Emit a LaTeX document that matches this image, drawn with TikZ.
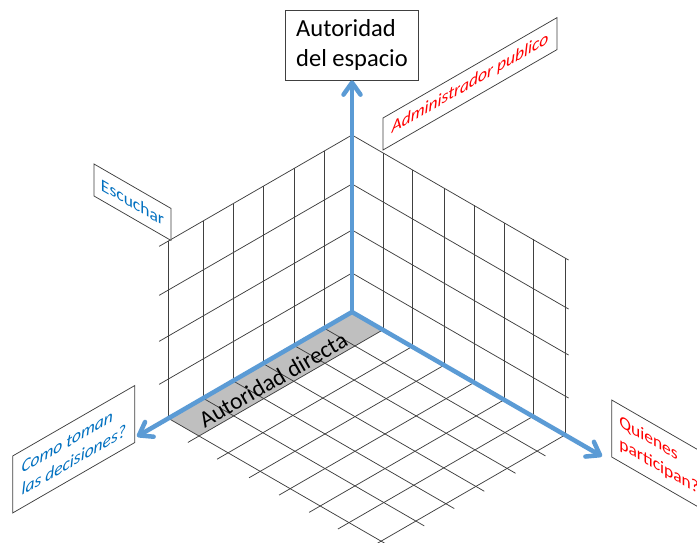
\documentclass[tikz,border=0pt]{standalone}
\usepackage{fontspec}
\setmainfont{Carlito}
\usetikzlibrary{arrows.meta}
\definecolor{axisblue}{HTML}{5B9BD5}
\definecolor{txtblue}{HTML}{0070C0}
\definecolor{gridgray}{HTML}{404040}
\definecolor{stripgray}{HTML}{BFBFBF}
\begin{document}
\begin{tikzpicture}[x=1pt,y=-1pt,
  gridline/.style={draw=gridgray, line width=0.75pt},
  axisarrow/.style={draw=axisblue, line width=4.5pt, -{Straight Barb[length=12pt,width=17pt,round]}},
  signbox/.style={draw=gridgray, line width=0.75pt, fill=white, inner sep=1pt, align=left},
  signfont/.style={font=\fontsize{17.5}{22}\selectfont},
  signfontit/.style={font=\fontsize{17.5}{22}\selectfont\itshape}
]
\useasboundingbox (0,0) rectangle (697,542);
\fill[white] (0,0) rectangle (697,542);
\coordinate (O) at (352,312);
% gray strip
\fill[stripgray] (352,312) -- ({352+30*1.03},{312+17.32*1.03}) -- ({352+30*(1.03-6.13)},{312+17.32*7.16}) -- ({352-30*6.13},{312+17.32*6.13}) -- cycle;
% left wall
\foreach \u in {0.93,1.93,2.97,3.97,4.97,6.13}
  \draw[gridline] ({352-30*\u},{312+17.32*\u}) -- ++(0,-177);
\foreach \h in {39,82,128,177}
  \draw[gridline] (352,{312-\h}) -- ++({-30*6.43},{17.32*6.43});
% right wall
\foreach \v in {1.03,2,3.07,4.07,5.07,6.03,7.1}
  \draw[gridline] ({352+30*\v},{312+17.32*\v}) -- ++(0,-177);
\foreach \h in {39,82,128,177}
  \draw[gridline] (352,{312-\h}) -- ++({30*7.22},{17.32*7.22});
% floor
\foreach \v in {1.03,2,3.07,4.07,5.07,6.03,7.1}
  \draw[gridline] ({352+30*\v},{312+17.32*\v}) -- ++({-30*6.5},{17.32*6.5});
\foreach \u in {0.93,1.93,2.97,3.97,4.97,6.13}
  \draw[gridline] ({352-30*\u},{312+17.32*\u}) -- ++({30*7.38},{17.32*7.38});
% floor label
\node[rotate=30, font=\fontsize{23.5}{28}\selectfont, inner sep=0pt] (ad) at (273,380) {Autoridad directa};
% top box
\node[draw=gridgray, line width=0.75pt, minimum width=133pt, minimum height=70pt, align=left,
      font=\fontsize{24.5}{29.5}\selectfont] (top) at (352,45) {Autoridad\\del espacio};
% wall signs
\node[signbox, signfontit, text=red, yslant=0.577, minimum width=174pt, minimum height=32pt] (admin) at (470,83.8) {Administrador publico};
\node[signbox, signfont, text=txtblue, yslant=-0.577, minimum width=77pt, minimum height=32pt] (esc) at (132.5,202.2) {Escuchar};
\node[signbox, signfontit, text=txtblue, yslant=0.577, minimum width=122pt, minimum height=57pt] (como) at (73.8,449.2) {Como toman\\las decisiones?};
\node[signbox, signfont, text=red, yslant=-0.577, minimum width=95pt, minimum height=57pt] (quien) at (659.2,455.9) {Quienes\\participan?};
% axes
\coordinate (tipL) at (137,436.5);
\coordinate (tipR) at (602,456.3);
\draw[axisarrow] (O) -- (top.south);
\draw[axisarrow] (O) -- (tipL);
\draw[axisarrow] (O) -- (tipR);
\end{tikzpicture}
\end{document}
